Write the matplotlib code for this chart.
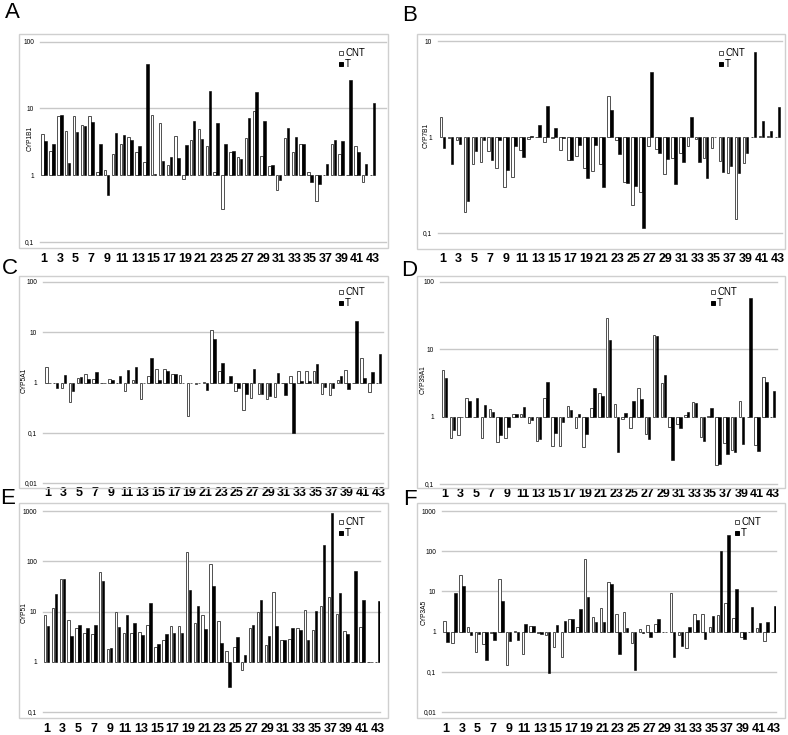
import numpy as np
import matplotlib
matplotlib.use('Agg')
import matplotlib.pyplot as plt
from matplotlib.patches import Rectangle
from matplotlib.ticker import FixedLocator, FuncFormatter, NullLocator

plt.rcParams['font.family'] = ['Liberation Sans', 'DejaVu Sans']

W, H = 788, 735
cats = np.arange(1, 44)
xlabels = [str(c) for c in cats if c % 2 == 1]

# A - CYP1B1
cyp1b1_cnt = [4.1, 2.3, 7.6, 4.6, 7.6, 5.7, 7.8, 1.1, 1.2, 2.1, 2.9, 3.8, 2.2, 1.6, 8.0, 6.0, 1.4, 3.9, 0.88, 3.4,
              5.0, 2.7, 1.12, 0.31, 2.2, 1.9, 3.65, 9.1, 1.95, 1.36, 0.6, 3.6, 2.25, 2.9, 1.1, 0.41, 1.02, 2.9, 2.1, 1.0,
              2.7, 0.79, 1.0]
cyp1b1_t = [3.3, 2.9, 8.1, 1.5, 4.5, 5.4, 6.3, 2.9, 0.51, 4.3, 4.0, 3.4, 2.7, 46, 1.05, 1.65, 1.85, 1.8, 2.8, 6.4,
            3.5, 18, 6.0, 2.9, 2.3, 1.75, 7.1, 17.5, 6.4, 1.4, 0.84, 5.1, 3.7, 2.9, 0.8, 0.73, 1.48, 3.4, 3.3, 27,
            2.25, 1.48, 12]
# B - CYP7B1
cyp7b1_cnt = [1.61, 0.98, 0.92, 0.165, 0.52, 0.545, 0.72, 0.47, 0.30, 0.385, 0.73, 0.96, 1.0, 0.88, 0.98, 0.74, 0.57,
              0.64, 0.47, 0.44, 0.52, 2.69, 0.92, 0.34, 0.194, 0.27, 0.80, 0.75, 0.41, 0.61, 0.68, 0.80, 0.95, 0.61,
              0.77, 0.56, 0.42, 0.141, 0.54, 1.0, 1.02, 1.02, 1.0]
cyp7b1_t = [0.77, 0.52, 0.85, 0.215, 0.71, 0.92, 0.57, 0.92, 0.45, 0.80, 0.62, 1.03, 1.34, 2.1, 1.24, 0.98, 0.57, 0.83,
            0.37, 0.83, 0.30, 1.92, 0.66, 0.33, 0.31, 0.114, 4.7, 0.68, 0.59, 0.325, 0.55, 1.61, 0.55, 0.375, 0.99,
            0.43, 0.50, 0.42, 0.68, 7.6, 1.48, 1.16, 2.05]
# C - CYP5A1
cyp5a1_cnt = [2.06, 0.97, 0.77, 0.4, 1.25, 1.5, 1.2, 1.0, 1.2, 1.0, 0.68, 1.11, 0.46, 1.32, 1.82, 1.82, 1.51, 1.42,
              0.22, 0.93, 1.02, 11.1, 1.66, 1.0, 0.68, 0.29, 0.50, 0.60, 0.48, 0.52, 1.0, 1.36, 1.68, 1.66, 1.66, 0.60,
              0.56, 1.11, 1.79, 1.0, 3.07, 0.66, 1.0]
cyp5a1_t = [0.97, 0.77, 1.42, 0.68, 1.27, 1.2, 1.6, 1.0, 1.11, 1.34, 1.79, 2.06, 1.0, 3.1, 1.11, 1.66, 1.51, 0.98, 1.0,
            0.96, 0.72, 7.2, 2.5, 1.32, 0.79, 0.58, 1.85, 0.60, 0.54, 1.58, 0.57, 0.1, 1.08, 1.08, 2.33, 0.83, 0.79,
            1.32, 0.74, 16.6, 1.22, 1.61, 3.7]
# D - CYP39A1
cyp39a1_cnt = [4.9, 0.49, 0.53, 1.91, 1.0, 0.48, 1.29, 0.42, 0.49, 1.08, 1.1, 0.80, 0.44, 1.87, 0.37, 0.37, 1.46, 0.67,
               0.35, 1.33, 2.25, 28.9, 1.52, 0.91, 0.69, 2.63, 0.55, 16.3, 3.16, 0.71, 0.77, 1.06, 1.63, 0.50, 1.02,
               0.19, 0.40, 0.32, 1.73, 1.0, 0.38, 3.93, 1.0]
cyp39a1_t = [3.8, 0.63, 0.98, 1.71, 1.87, 1.51, 1.16, 0.53, 0.71, 1.11, 1.41, 0.89, 0.46, 3.3, 0.57, 0.82, 1.26, 1.08,
             0.55, 2.7, 2.05, 13.9, 0.30, 1.12, 1.73, 1.83, 0.47, 15.8, 4.15, 0.23, 0.69, 1.16, 1.58, 0.44, 1.36, 0.20,
             0.28, 0.30, 0.39, 58, 0.31, 3.24, 2.4]
# E - CYP51
cyp51_cnt = [8.7, 11.5, 44, 6.8, 4.7, 3.8, 3.55, 61, 1.76, 9.7, 3.8, 3.8, 3.95, 5.4, 2.0, 2.65, 5.2, 5.2, 150, 5.9,
             8.6, 90, 6.5, 1.65, 1.93, 0.70, 4.6, 9.8, 2.2, 25, 2.7, 2.9, 4.7, 10.9, 4.2, 13.1, 19.5, 9.1, 4.06, 1.0,
             5.0, 1.0, 1.0]
cyp51_t = [5.1, 22.5, 44.5, 3.3, 5.4, 4.8, 5.35, 40, 1.9, 5.0, 8.7, 5.8, 3.4, 14.6, 2.28, 3.5, 3.65, 3.8, 27, 12.9,
           4.5, 32, 2.4, 0.31, 3.1, 1.34, 5.5, 16.8, 3.3, 5.2, 2.75, 4.7, 4.25, 2.7, 10.1, 208, 927, 23, 3.6, 64,
           17.3, 1.0, 16]
# F - CYP3A5
cyp3a5_cnt = [1.88, 0.51, 26, 1.28, 0.31, 0.49, 0.91, 20.4, 0.15, 1.06, 0.28, 1.41, 0.93, 0.84, 0.42, 0.23, 2.1, 1.33,
              65, 2.27, 3.9, 17.5, 2.75, 3.0, 0.51, 1.16, 1.44, 1.55, 0.98, 9.1, 0.84, 0.39, 2.75, 2.75, 1.33, 2.65,
              5.15, 2.2, 0.72, 1.0, 1.26, 0.58, 1.0]
cyp3a5_t = [0.56, 9.1, 13.4, 0.8, 0.88, 0.2, 0.63, 5.9, 0.58, 0.63, 1.55, 1.38, 0.88, 0.092, 1.46, 1.8, 2.1, 3.6, 7.4,
            1.7, 1.77, 15.6, 0.28, 1.23, 0.11, 0.91, 0.72, 2.06, 0.98, 0.23, 0.45, 1.33, 1.95, 0.66, 2.5, 103, 253,
            11.5, 0.66, 4.2, 1.64, 1.77, 4.35]

# layout in pixels: frame box, plot area, first/last category centre, label pad, legend, letter, y-label
panels = [
    dict(letter='A', gene='CYP1B1', cnt=cyp1b1_cnt, t=cyp1b1_t, ylim=(0.1, 100),
         frame=(19, 34, 388, 248), area=(40, 41.7, 386, 242), c1=44.2, c43=372.5, lpad=11,
         leg=(341, 53), let=(5, 2), ylab=(30, 138)),
    dict(letter='B', gene='CYP7B1', cnt=cyp7b1_cnt, t=cyp7b1_t, ylim=(0.1, 10),
         frame=(417, 34, 785, 249), area=(438, 41, 782, 233), c1=442.4, c43=777.5, lpad=20,
         leg=(721, 53), let=(402, 5), ylab=(426, 135)),
    dict(letter='C', gene='CYP5A1', cnt=cyp5a1_cnt, t=cyp5a1_t, ylim=(0.01, 100),
         frame=(19, 276, 388, 488), area=(43, 282, 383, 483), c1=47.8, c43=378.7, lpad=4,
         leg=(341, 292), let=(2, 258), ylab=(24, 380)),
    dict(letter='D', gene='CYP39A1', cnt=cyp39a1_cnt, t=cyp39a1_t, ylim=(0.1, 100),
         frame=(417, 276, 785, 488), area=(440, 282, 777, 484), c1=444.5, c43=772.7, lpad=4,
         leg=(713, 292), let=(401, 260), ylab=(423, 380)),
    dict(letter='E', gene='CYP51', cnt=cyp51_cnt, t=cyp51_t, ylim=(0.1, 1000),
         frame=(19, 503, 388, 718), area=(43, 511, 380, 712), c1=46.5, c43=377.7, lpad=11,
         leg=(341, 522), let=(0, 488), ylab=(24, 613)),
    dict(letter='F', gene='CYP3A5', cnt=cyp3a5_cnt, t=cyp3a5_t, ylim=(0.01, 1000),
         frame=(417, 503, 785, 718), area=(442, 511, 776, 712), c1=446.2, c43=774.0, lpad=11,
         leg=(737, 522), let=(403, 489), ylab=(424, 612)),
]


def fx(x):
    return x / W


def fy(y):
    return 1 - y / H


def dec_fmt(v, pos):
    if v >= 1:
        return '%d' % round(v)
    return ('%g' % v).replace('.', ',')


fig = plt.figure(figsize=(W / 100, H / 100), dpi=100)

for p in panels:
    fx0, fy0, fx1, fy1 = p['frame']
    fig.patches.append(Rectangle((fx(fx0), fy(fy1)), fx(fx1 - fx0), (fy1 - fy0) / H,
                                 transform=fig.transFigure, fill=False, edgecolor='#cfcfcf', lw=1.0))

    x0, y0, x1, y1 = p['area']
    ax = fig.add_axes([fx(x0), fy(y1), fx(x1 - x0), (y1 - y0) / H])
    s = (p['c43'] - p['c1']) / 42.0
    ax.set_xlim(1 - (p['c1'] - x0) / s, 1 + (x1 - p['c1']) / s)
    ax.set_yscale('log')
    ax.set_ylim(*p['ylim'])

    cnt = np.array(p['cnt'])
    t = np.array(p['t'])
    ax.bar(cats - 0.19, np.abs(cnt - 1), bottom=np.minimum(cnt, 1), width=0.32,
           facecolor='white', edgecolor='#505050', linewidth=0.7, zorder=3)
    ax.bar(cats + 0.19, np.abs(t - 1), bottom=np.minimum(t, 1), width=0.32,
           facecolor='black', edgecolor='black', linewidth=0.4, zorder=3)

    lo, hi = np.log10(p['ylim'])
    decades = [10.0 ** k for k in range(int(lo), int(hi) + 1)]
    for d in decades:
        if d != 1:
            ax.axhline(d, color='#c8c8c8', lw=1.0, zorder=1, clip_on=False)
    ax.yaxis.set_major_locator(FixedLocator(decades))
    ax.yaxis.set_minor_locator(NullLocator())
    ax.yaxis.set_major_formatter(FuncFormatter(dec_fmt))
    ax.tick_params(axis='y', length=0, pad=4.3, labelsize=4.8)

    ax.set_xticks(cats[::2])
    ax.set_xticklabels(xlabels)
    ax.tick_params(axis='x', length=0, pad=p['lpad'] * 0.72, labelsize=9)
    for lab in ax.get_xticklabels():
        lab.set_fontweight('bold')
    for sp in ax.spines.values():
        sp.set_visible(False)
    ax.patch.set_alpha(0)

    fig.text(fx(p['ylab'][0]), fy(p['ylab'][1]), p['gene'], rotation=90, fontsize=4.8,
             ha='center', va='center')
    fig.text(fx(p['let'][0]), fy(p['let'][1]), p['letter'], fontsize=16, ha='left', va='top')

    lx, ly = p['leg']
    for i, (name, fc, ec) in enumerate([('CNT', 'white', '#505050'), ('T', 'black', 'black')]):
        yy = ly + i * 11
        fig.patches.append(Rectangle((fx(lx - 2), fy(yy + 2)), 4 / W, 4 / H, transform=fig.transFigure,
                                     facecolor=fc, edgecolor=ec, lw=0.7))
        fig.text(fx(lx + 4), fy(yy), name, fontsize=7, ha='left', va='center')

plt.savefig('out.png', dpi=100)
